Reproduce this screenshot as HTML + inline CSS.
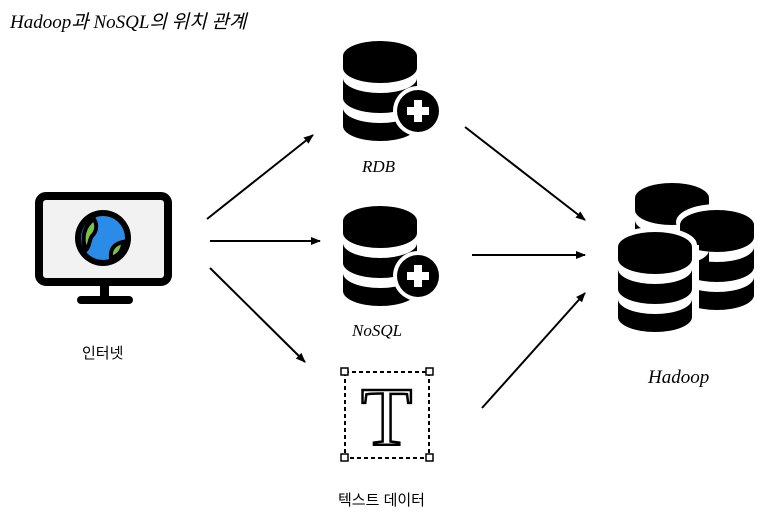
<!DOCTYPE html>
<html><head><meta charset="utf-8"><style>
body{margin:0;background:#fff;width:780px;height:526px;overflow:hidden}
svg{display:block}
text{font-family:"Liberation Serif","Noto Sans CJK KR",serif;font-style:italic}
text.n{font-style:normal;font-family:"Liberation Sans","Noto Sans CJK KR",sans-serif}
</style></head><body>
<svg width="780" height="526" viewBox="0 0 780 526">
<defs>
<marker id="a" markerWidth="10" markerHeight="10" refX="9" refY="5" orient="auto" markerUnits="userSpaceOnUse">
<path d="M0,1 L10,5 L0,9 Z" fill="#000"/></marker>
<g id="db">
<path d="M-37,0 A37,15 0 0 1 37,0 V12 A37,15 0 0 1 -37,12 Z" fill="#000"/>
<path d="M-37,22 A37,15 0 0 0 37,22 V42 A37,15 0 0 1 -37,42 Z" fill="#000"/>
<path d="M-37,52 A37,15 0 0 0 37,52 V70 A37,15 0 0 1 -37,70 Z" fill="#000"/>
</g>
<g id="dbp">
<use href="#db"/>
<circle cx="38" cy="55" r="25" fill="#fff"/>
<circle cx="38" cy="55" r="21" fill="#000"/>
<rect x="27" y="51" width="22" height="8" fill="#fff"/>
<rect x="34" y="44" width="8" height="22" fill="#fff"/>
</g>
</defs>
<text x="10" y="28" font-size="19">Hadoop과 NoSQL의 위치 관계</text>

<!-- monitor -->
<rect x="39" y="196" width="129" height="86" rx="7" fill="#f2f2f2" stroke="#000" stroke-width="8"/>
<rect x="100" y="285" width="9" height="14" fill="#000"/>
<rect x="77" y="296" width="56" height="8" rx="4" fill="#000"/>
<circle cx="103" cy="238" r="28" fill="#000"/>
<circle cx="103" cy="238" r="22" fill="#2b8ce8"/>
<path d="M94,219 C84,226 81,238 86,250 C90,246 89,240 92,236 C96,232 98,226 94,219Z" fill="#7dc242" stroke="#000" stroke-width="4"/>
<path d="M111,258 C110,249 114,244 123,242 C123,251 118,256 111,258Z" fill="#7dc242" stroke="#000" stroke-width="4"/>
<text x="82" y="358" class="n" font-size="15">인터넷</text>

<!-- RDB -->
<use href="#dbp" x="380" y="56"/>
<text x="362" y="172" font-size="17">RDB</text>
<!-- NoSQL -->
<use href="#dbp" x="380" y="221"/>
<text x="352" y="336" font-size="17">NoSQL</text>

<!-- Text -->
<rect x="345" y="372" width="84" height="86" fill="none" stroke="#000" stroke-width="2" stroke-dasharray="4,3"/>
<g fill="#fff" stroke="#000" stroke-width="1.5">
<rect x="341" y="368" width="7" height="7"/><rect x="426" y="368" width="7" height="7"/>
<rect x="341" y="454" width="7" height="7"/><rect x="426" y="454" width="7" height="7"/></g>
<text x="361" y="445" class="n" style="font-family:'Liberation Serif',serif" font-size="84" fill="#fff" stroke="#000" stroke-width="2.5">T</text>
<text x="338" y="505" class="n" font-size="15">텍스트 데이터</text>

<!-- Hadoop -->
<use href="#db" x="672" y="198"/>
<g><ellipse cx="717" cy="222" rx="41" ry="18" fill="#fff"/><use href="#db" x="717" y="225"/></g>
<g><ellipse cx="655" cy="245" rx="42" ry="18" fill="#fff"/><rect x="611" y="245" width="88" height="75" fill="#fff"/><use href="#db" x="655" y="247"/></g>
<text x="648" y="383" font-size="19">Hadoop</text>

<!-- arrows -->
<g stroke="#000" stroke-width="2" marker-end="url(#a)">
<line x1="207" y1="219" x2="313" y2="135"/>
<line x1="210" y1="241" x2="320" y2="241"/>
<line x1="210" y1="268" x2="305" y2="362"/>
<line x1="465" y1="127" x2="585" y2="220"/>
<line x1="472" y1="255" x2="585" y2="255"/>
<line x1="482" y1="408" x2="585" y2="293"/>
</g>
</svg>
</body></html>
